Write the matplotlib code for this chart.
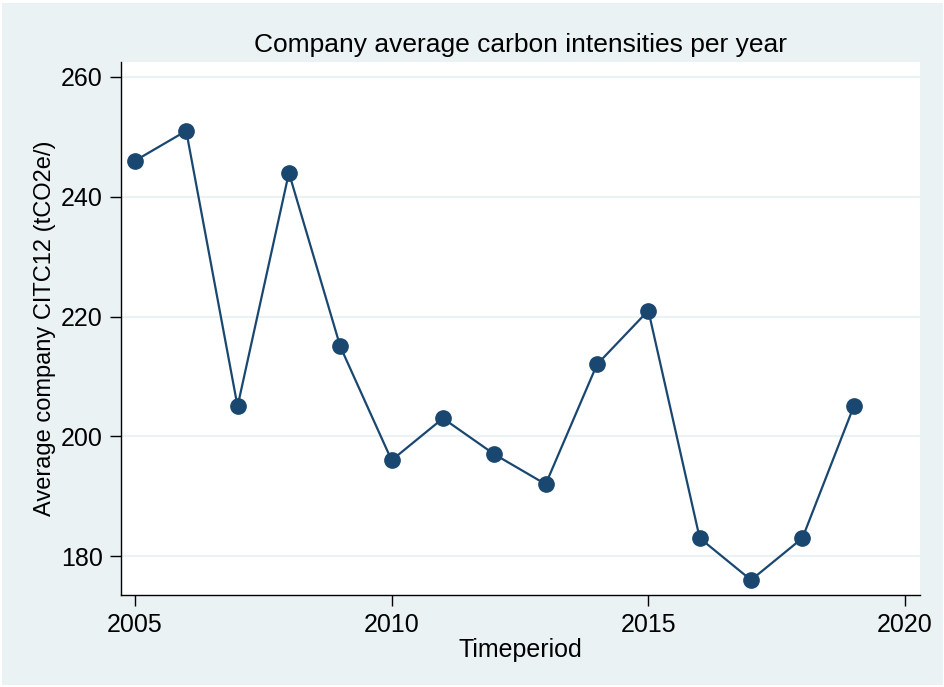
import matplotlib.pyplot as plt
from matplotlib.patches import Rectangle

years = [2005, 2006, 2007, 2008, 2009, 2010, 2011, 2012, 2013, 2014, 2015, 2016, 2017, 2018, 2019]
intensity = [246, 251, 205, 244, 215, 196, 203, 197, 192, 212, 221, 183, 176, 183, 205]
xticks = [2005, 2010, 2015, 2020]
yticks = [180, 200, 220, 240, 260]

bg = '#eaf2f3'
navy = '#1a476f'

plt.rcParams['font.family'] = ['Liberation Sans', 'DejaVu Sans']

W, H = 945, 687
fig = plt.figure(figsize=(W / 100, H / 100), dpi=100, facecolor='white')
# light outer panel with a thin white edge, like Stata's s2color scheme
fig.patches.append(Rectangle((2 / W, 2 / H), 1 - 4 / W, 1 - 5 / H,
                             transform=fig.transFigure, facecolor=bg,
                             edgecolor='none', zorder=-10))

ax = fig.add_axes([121 / W, 1 - 595 / H, (920 - 121) / W, (595 - 62) / H])
ax.set_facecolor('white')

ax.plot(years, intensity, color=navy, lw=1.6, marker='o', ms=11, mfc=navy, mec=navy, zorder=3)

ax.set_xlim(2004.73, 2020.29)
ax.set_ylim(173.5, 262.5)
ax.set_xticks(xticks)
ax.set_yticks(yticks)
ax.grid(axis='y', color=bg, lw=1.5, zorder=0)
ax.tick_params(labelsize=18, length=8, width=1, direction='out', colors='black', pad=5)

for s in ['top', 'right']:
    ax.spines[s].set_visible(False)
for s in ['left', 'bottom']:
    ax.spines[s].set_linewidth(1)

ax.set_title('Company average carbon intensities per year', fontsize=19, pad=7)
ax.set_xlabel('Timeperiod', fontsize=18, labelpad=1)
ax.set_ylabel('Average company CITC12 (tCO2e/)', fontsize=17, labelpad=4)

fig.savefig('out.png', dpi=100, facecolor='white')
